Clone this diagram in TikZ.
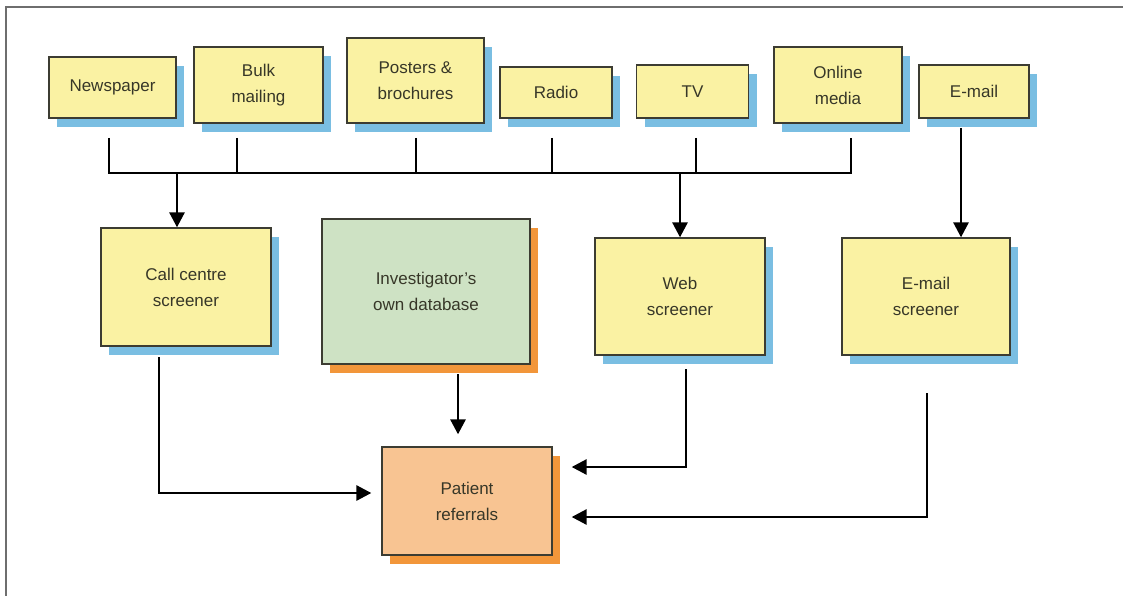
\documentclass[tikz,border=0pt]{standalone}
\usepackage{fontspec}
\setmainfont{Liberation Sans}
\usetikzlibrary{shadows,arrows.meta}

\definecolor{mediaYellow}{RGB}{250,242,163}
\definecolor{shadowBlue}{RGB}{122,190,226}
\definecolor{dbGreen}{RGB}{206,226,196}
\definecolor{shadowOrange}{RGB}{242,150,58}
\definecolor{referralPeach}{RGB}{248,196,146}
\definecolor{edgeGray}{RGB}{60,60,50}
\definecolor{textGray}{RGB}{55,55,40}
\definecolor{frameGray}{RGB}{110,110,110}

\begin{document}
\begin{tikzpicture}
[x=1pt,y=-1pt,
  boxDecorate/.style={shape=rectangle,draw=edgeGray,line width=1.3pt,inner sep=0pt,
    align=center,text=textGray,font=\fontsize{17}{26}\selectfont},
  mediaDecorate/.style={boxDecorate,fill=mediaYellow,
    drop shadow={shadow xshift=8pt,shadow yshift=-9pt,fill=shadowBlue,opacity=1}},
  dbDecorate/.style={boxDecorate,fill=dbGreen,
    drop shadow={shadow xshift=8pt,shadow yshift=-9pt,fill=shadowOrange,opacity=1}},
  referralDecorate/.style={boxDecorate,fill=referralPeach,
    drop shadow={shadow xshift=8pt,shadow yshift=-9pt,fill=shadowOrange,opacity=1}},
  lineDecorate/.style={-,line width=2.8pt,draw=black},
  arrowDecorate/.style={lineDecorate,-{Triangle[width=15pt,length=15pt]}},
  frameDecorate/.style={line width=1.4pt,draw=frameGray}]
\useasboundingbox (0,0) rectangle (1123,596);
\draw[frameDecorate] (1123,7) -- (6,7) -- (6,596);
%% media and screener boxes
\foreach \nodename/\x/\y/\w/\h/\boxtext in {
  news/112.5/87.5/127/61/Newspaper,
  bulk/258.5/85/129/76/{Bulk\\mailing},
  posters/415.5/80.5/137/85/{Posters \&\\brochures},
  radio/556/92.5/112/51/Radio,
  tv/692.5/91.5/112/53/TV,
  online/838/85/128/76/{Online\\media},
  email/974/91.5/110/53/E-mail,
  call/186/287/170/118/{Call centre\\screener},
  web/680/296.5/170/117/{Web\\screener},
  emailScr/926/296.5/168/117/{E-mail\\screener}}
{
  \node (\nodename) at (\x,\y) [mediaDecorate,minimum width=\w pt,minimum height=\h pt] {\boxtext};
}
\node (invDb) at (426,291.5) [dbDecorate,minimum width=208pt,minimum height=145pt]
  {Investigator's\\own database};
\node (patient) at (467,501) [referralDecorate,minimum width=170pt,minimum height=108pt]
  {Patient\\referrals};
%% free ends of the lines
\foreach \nodename/\tx in {news/109, bulk/237, posters/416, radio/552, tv/696, online/851}
{
  \coordinate (\nodename-t) at (\tx,138);
}
\coordinate (bus) at (0,173);
\coordinate (email-t) at (961,128);
\coordinate (call-in) at ([xshift=-9pt]call.north);
\coordinate (call-b) at (159,357);
\coordinate (invDb-b) at (458,374);
\coordinate (web-b) at (686,369);
\coordinate (emailScr-b) at (927,393);
%% edges or lines
\draw[lineDecorate] (news-t) -- (news-t |- bus) -- (online-t |- bus) -- (online-t);
\foreach \nodename in {bulk, posters, radio, tv}
{
  \draw[lineDecorate] (\nodename-t) -- (\nodename-t |- bus);
}
\draw[arrowDecorate] (call-in |- bus) -- (call-in);
\draw[arrowDecorate] (web.north |- bus) -- (web.north);
\draw[arrowDecorate] (email-t) -- (email-t |- emailScr.north);
\draw[arrowDecorate] (call-b) |- ([shift={(-10pt,8pt)}]patient.west);
\draw[arrowDecorate,shorten >=12pt] (invDb-b) -- (invDb-b |- patient.north);
\draw[arrowDecorate] (web-b) |- ([shift={(19pt,34pt)}]patient.east);
\draw[arrowDecorate] (emailScr-b) |- ([shift={(19pt,-16pt)}]patient.east);
\end{tikzpicture}
\end{document}
